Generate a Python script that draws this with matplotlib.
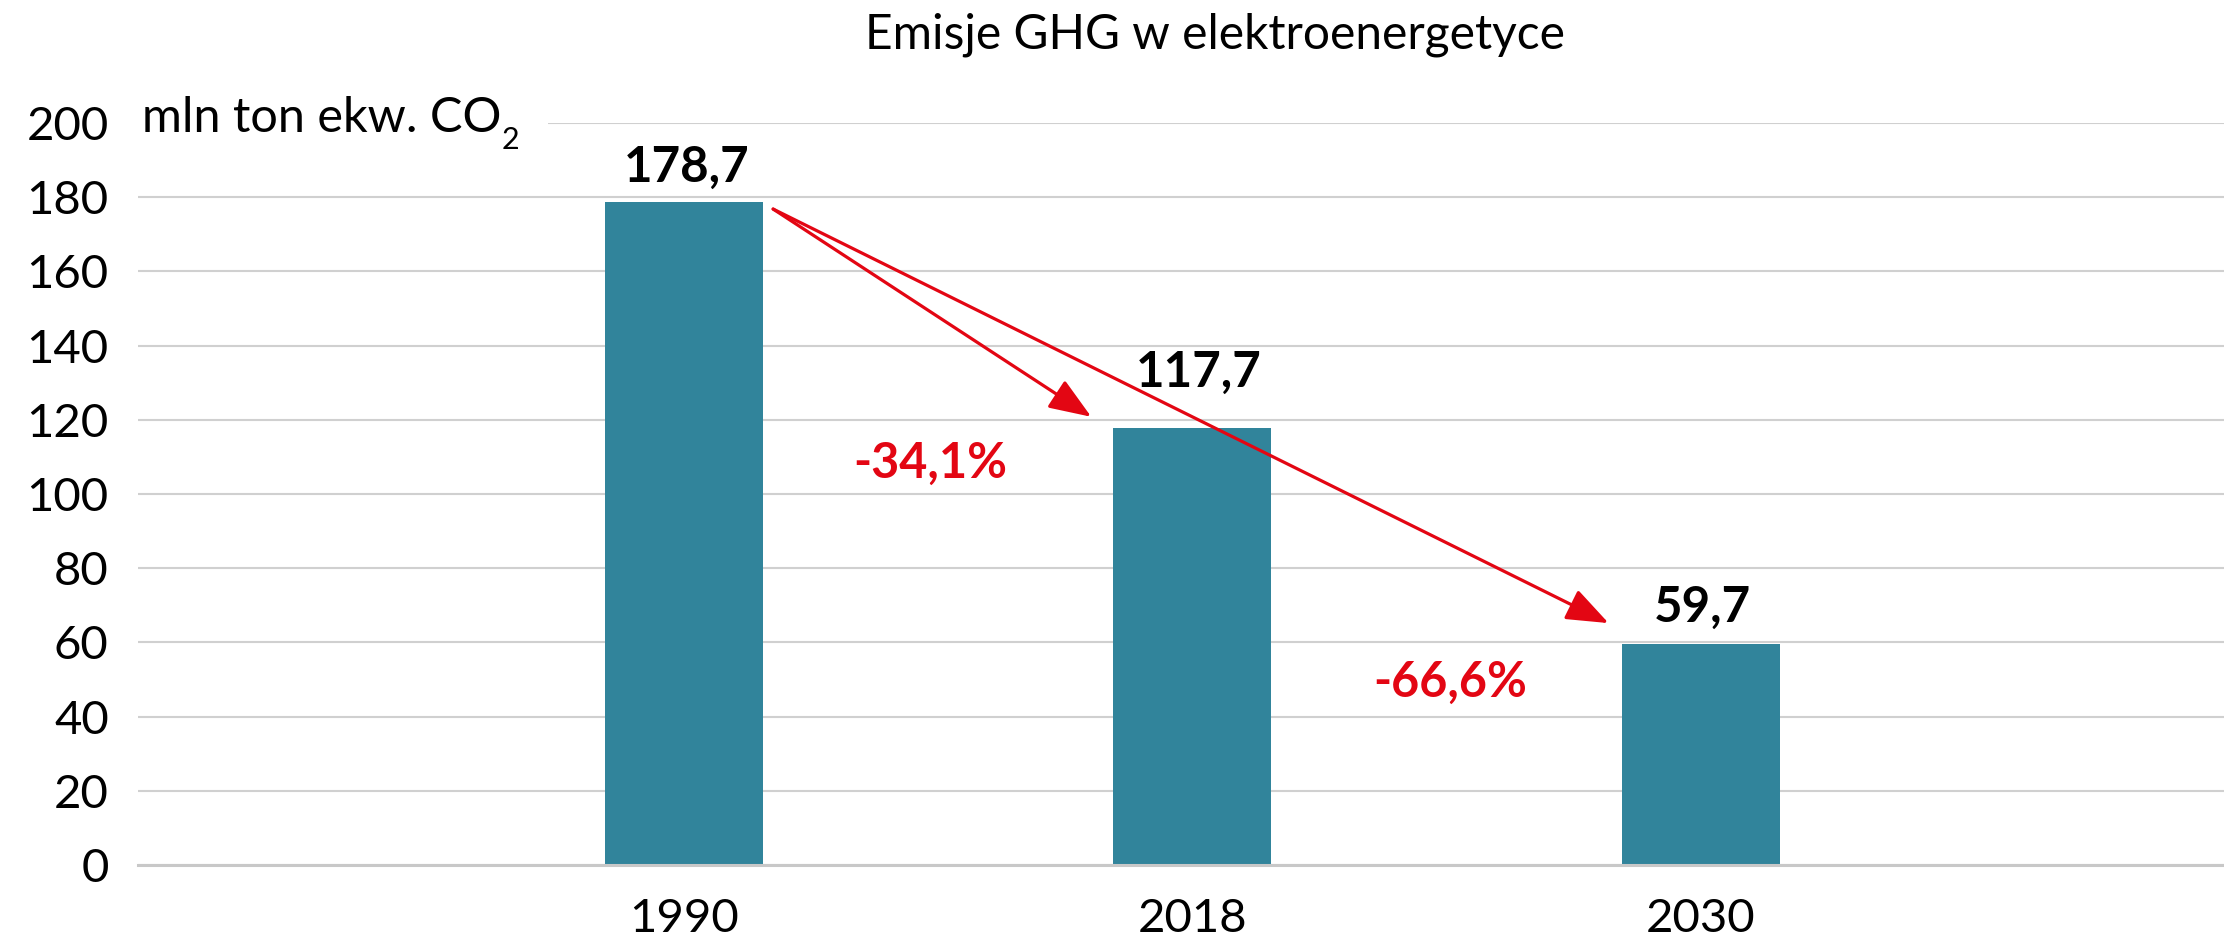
import matplotlib
matplotlib.use("Agg")
import matplotlib.pyplot as plt
from matplotlib.patches import FancyArrowPatch, Rectangle

plt.rcParams['font.family'] = ['Lato', 'DejaVu Sans']

# data
years = ['1990', '2018', '2030']
emissions = [178.7, 117.7, 59.7]
value_labels = ['178,7', '117,7', '59,7']
change_labels = ['-34,1%', '-66,6%']
yticks = [0, 20, 40, 60, 80, 100, 120, 140, 160, 180, 200]

BAR = '#31849B'
RED = '#E30613'
GRID = '#D0D0D0'

W, H = 2224, 943
fig = plt.figure(figsize=(W / 100, H / 100), dpi=100)
ax = fig.add_axes([0.062, 0.0827, 0.938, 0.7869])

x = list(range(len(years)))
ax.bar(x, emissions, width=0.311, color=BAR, zorder=2)

ax.set_xlim(-1.075, 3.03)
ax.set_ylim(0, 200)
ax.set_yticks(yticks)
ax.set_xticks(x)
ax.set_xticklabels(years)
ax.tick_params(axis='both', length=0, labelsize=34)
ax.tick_params(axis='x', pad=24)
ax.tick_params(axis='y', pad=21)
ax.yaxis.grid(True, color=GRID, linewidth=1.5, zorder=0)
for s in ['top', 'right', 'left']:
    ax.spines[s].set_visible(False)
ax.spines['bottom'].set_color('#C8C8C8')
ax.spines['bottom'].set_linewidth(2.2)

# value labels above bars (the 2018 one sits a bit higher)
label_y = [184.1, 128.8, 65.5]
label_dx = [0.005, 0.013, 0.004]
for i, (txt, ly) in enumerate(zip(value_labels, label_y)):
    ax.text(i + label_dx[i], ly, txt, ha='center', va='baseline',
            fontsize=35.5, fontweight='bold', color='black', zorder=4)

# change labels
ax.text(0.484, 104.3, change_labels[0], ha='center', va='baseline',
        fontsize=35, fontweight='bold', color=RED, zorder=4)
ax.text(1.507, 45.3, change_labels[1], ha='center', va='baseline',
        fontsize=35, fontweight='bold', color=RED, zorder=4)

# arrows
start = (0.175, 176.8)
for tip in [(0.801, 120.8), (1.819, 65.2)]:
    arr = FancyArrowPatch(start, tip, arrowstyle='-|>,head_length=26,head_width=10',
                          mutation_scale=1, color=RED, linewidth=2.3,
                          shrinkA=0, shrinkB=0, zorder=5)
    ax.add_patch(arr)

# unit label, white patch hides the top gridline behind it
fig.add_artist(Rectangle((138 / W, 1 - 140 / H), (548 - 138) / W, 35 / H,
                         transform=fig.transFigure, facecolor='white',
                         edgecolor='none', zorder=2))
fig.text(142 / W, 1 - 132 / H, 'mln ton ekw. CO', ha='left', va='baseline',
         fontsize=35, color='black', zorder=3)
fig.text(502 / W, 1 - 149 / H, '2', ha='left', va='baseline',
         fontsize=22, color='black', zorder=3)

fig.text(1215 / W, 1 - 35 / H, 'Emisje GHG w elektroenergetyce',
         ha='center', va='center', fontsize=34.5, color='black')

fig.savefig('out.png', dpi=100)
